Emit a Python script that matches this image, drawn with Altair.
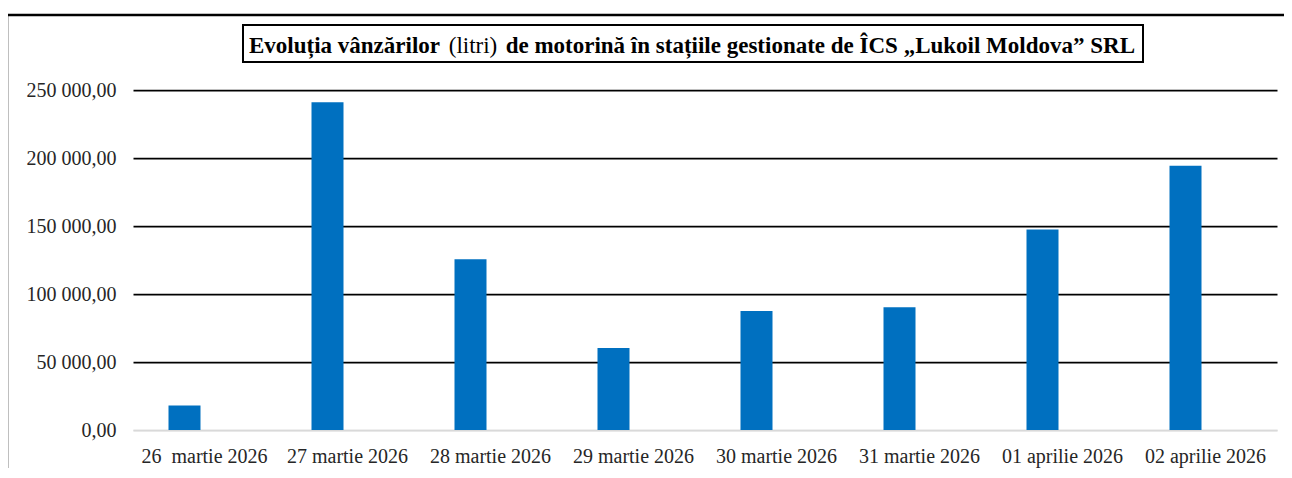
import altair as alt
import pandas as pd

# ---- data ----
dates = [
    "26\u00a0 martie 2026", "27 martie 2026", "28 martie 2026", "29 martie 2026",
    "30 martie 2026", "31 martie 2026", "01 aprilie 2026", "02 aprilie 2026",
]
sales = [18000, 241000, 125500, 60300, 87500, 90200, 147500, 194300]
y_ticks = [0, 50000, 100000, 150000, 200000, 250000]
title_parts = [
    "Evoluția vânzărilor",
    "(litri)",
    "de motorină în stațiile gestionate de ÎCS „Lukoil Moldova” SRL",
]

df = pd.DataFrame({"data": dates, "litri": sales})

W, H = 1144, 340
FONT = "Liberation Serif"
one = alt.Data(values=[{}])

x = alt.X(
    "data:N", sort=dates,
    scale=alt.Scale(paddingInner=0, paddingOuter=0),
    axis=alt.Axis(title=None, labelAngle=0, labelFont=FONT, labelFontSize=20,
                  labelColor="#262626", labelPadding=16, ticks=False,
                  domainColor="#d9d9d9", domainWidth=1.5),
)
y = alt.Y(
    "litri:Q",
    scale=alt.Scale(domain=[0, 250000], nice=False),
    axis=alt.Axis(
        title=None, values=y_ticks,
        labelExpr="replace(replace(format(datum.value, ',.2f'), ',', ' '), '.', ',')",
        labelFont=FONT, labelFontSize=20, labelColor="#262626", labelPadding=17,
        ticks=False, domain=False,
        gridColor={"condition": {"test": "datum.value === 0", "value": "#d9d9d9"},
                   "value": "#000000"},
        gridWidth=1.75,
    ),
)

bars = alt.Chart(df).mark_bar(width=32, xOffset=-20, color="#0070C0").encode(x=x, y=y)

frame = alt.Chart(one).mark_rect(fillOpacity=0, stroke="black", strokeWidth=2.5).encode(
    x=alt.value(-126), x2=alt.value(1175), y=alt.value(-75), y2=alt.value(420)
)
box = alt.Chart(one).mark_rect(fill="white", stroke="black", strokeWidth=2).encode(
    x=alt.value(110), x2=alt.value(1010), y=alt.value(-65), y2=alt.value(-28)
)
t1 = alt.Chart(one).mark_text(font=FONT, fontSize=23, fontWeight="bold", align="left",
                              baseline="alphabetic", color="black").encode(
    x=alt.value(116), y=alt.value(-37), text=alt.value(title_parts[0]))
t2 = alt.Chart(one).mark_text(font=FONT, fontSize=23, fontWeight="normal", align="center",
                              baseline="alphabetic", color="black").encode(
    x=alt.value(340), y=alt.value(-37), text=alt.value(title_parts[1]))
t3 = alt.Chart(one).mark_text(font=FONT, fontSize=23, fontWeight="bold", align="right",
                              baseline="alphabetic", color="black").encode(
    x=alt.value(1002), y=alt.value(-37), text=alt.value(title_parts[2]))

chart = alt.layer(frame, box, t1, t2, t3, bars).properties(
    width=W, height=H,
    autosize=alt.AutoSizeParams(type="none"),
    padding={"left": 125, "top": 82, "right": 7, "bottom": 38},
).configure_view(stroke="transparent")

chart.save("out.html", embed_options={"renderer": "svg", "actions": False})
